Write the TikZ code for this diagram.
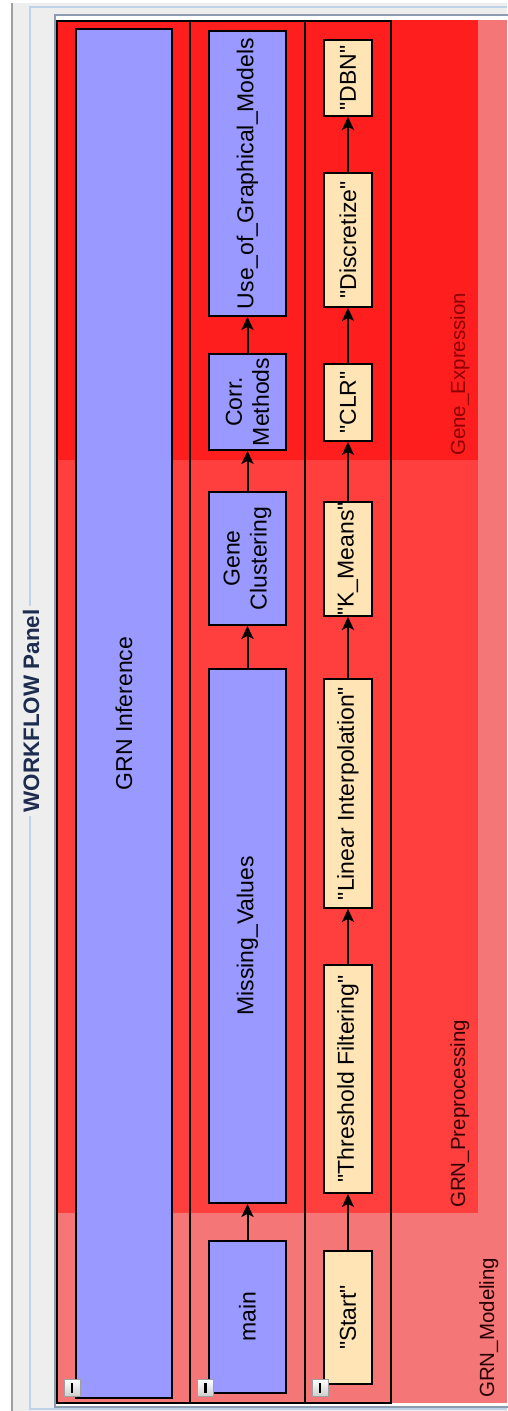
\documentclass[tikz,border=0pt]{standalone}
\usepackage{fontspec}
\setmainfont{Liberation Sans}[Ligatures=TeXOff]
\usetikzlibrary{arrows.meta}

\definecolor{panelgray}{HTML}{EEEEEE}
\definecolor{titleline}{HTML}{BFD3E8}
\definecolor{frameline}{HTML}{8C9CB0}
\definecolor{titleblue}{HTML}{1E2C50}
\definecolor{modeling}{HTML}{F57676}
\definecolor{preproc}{HTML}{FF3E3E}
\definecolor{geneexpr}{HTML}{FF1E1E}
\definecolor{subblue}{HTML}{9999FF}
\definecolor{actyellow}{HTML}{FFE5B6}

% straight quotes around an action name
\newcommand{\act}[1]{\char34 #1\char34}

\begin{document}
\begin{tikzpicture}[x=1pt,y=-1pt,
    task/.style={draw=black,line width=1.8pt,rotate=90,inner sep=0pt,align=center,
      font=\fontsize{23}{27}\selectfont},
    subflow/.style={task,fill=subblue},
    action/.style={task,fill=actyellow},
    lane/.style={draw=black,line width=1.5pt},
    flow/.style={-{Stealth[length=13pt,width=12pt,inset=3pt]},line width=2pt},
    layer/.style={rotate=90,anchor=base west,inner sep=0pt,
      font=\fontsize{20.5}{24}\selectfont},
    toggle/.style={draw=gray!75,top color=white,bottom color=gray!40,
      minimum width=16pt,minimum height=17pt,inner sep=0pt}]
\useasboundingbox (0,0) rectangle (507,1411);

% window and panel frame
\fill[white] (0,0) rectangle (507,1411);
\fill[panelgray] (13,3) rectangle (507,1411);
\draw[gray!75,line width=2pt] (12,3) -- (12,1411);
\draw[titleline,line width=1.5pt] (507,7) -- (30,7) -- (30,1409) -- (507,1409);
\node[fill=panelgray,rotate=90,inner sep=4pt,text=titleblue,
  font=\bfseries\fontsize{22.4}{26}\selectfont] (title) at (31,711) {WORKFLOW Panel};
\draw[frameline,fill=white,line width=1.5pt] (55,15) rectangle (509,1407);

% nested layers
\fill[modeling] (57,20) rectangle (507,1403);
\fill[preproc] (57,20) rectangle (478,1213);
\fill[geneexpr] (57,20) rectangle (478,460);

% swimlanes
\foreach \a/\b in {57/190,190/305,305/391}
  \draw[lane] (\a,21) rectangle (\b,1403);

% lane 1
\node[subflow,minimum width=1369pt,minimum height=96pt] (inference) at (124,713.5) {GRN Inference};

% lane 2
\node[subflow,minimum width=285pt,minimum height=77pt] (graphical) at (247.5,173.5) {Use\_of\_Graphical\_Models};
\node[subflow,minimum width=96pt,minimum height=77pt] (corr) at (247.5,402) {Corr.\\Methods};
\node[subflow,minimum width=133pt,minimum height=77pt] (clustering) at (247.5,558.5) {Gene\\Clustering};
\node[subflow,minimum width=534pt,minimum height=77pt] (missing) at (247.5,936) {Missing\_Values};
\node[subflow,minimum width=152pt,minimum height=77pt] (main) at (247.5,1317) {main};

% lane 3
\node[action,minimum width=76pt,minimum height=48pt] (dbn) at (348,78) {\act{DBN}};
\node[action,minimum width=134pt,minimum height=48pt] (discretize) at (348,240) {\act{Discretize}};
\node[action,minimum width=77pt,minimum height=48pt] (clr) at (348,402.5) {\act{CLR}};
\node[action,minimum width=114pt,minimum height=48pt] (kmeans) at (348,559) {\act{K\_Means}};
\node[action,minimum width=229pt,minimum height=48pt] (interp) at (348,793.5) {\act{Linear Interpolation}};
\node[action,minimum width=228pt,minimum height=48pt] (threshold) at (348,1079) {\act{Threshold Filtering}};
\node[action,minimum width=133pt,minimum height=48pt] (start) at (348,1317.5) {\act{Start}};

\foreach \s/\t in {main/missing,missing/clustering,clustering/corr,corr/graphical,
    start/threshold,threshold/interp,interp/kmeans,kmeans/clr,clr/discretize,discretize/dbn}
  \draw[flow] (\s) -- (\t);

% collapse toggles
\foreach \x [count=\i] in {72,205.5,320}
  \node[toggle] (toggle\i) at (\x,1388) {\rule{2.5pt}{10pt}};

% layer names
\node[layer,text=red!55!black] (genelabel) at (465,456) {Gene\_Expression};
\node[layer,text=black!80!red] (preplabel) at (465,1208) {GRN\_Preprocessing};
\node[layer,text=black!85!red] (modlabel) at (494,1398) {GRN\_Modeling};
\end{tikzpicture}
\end{document}
